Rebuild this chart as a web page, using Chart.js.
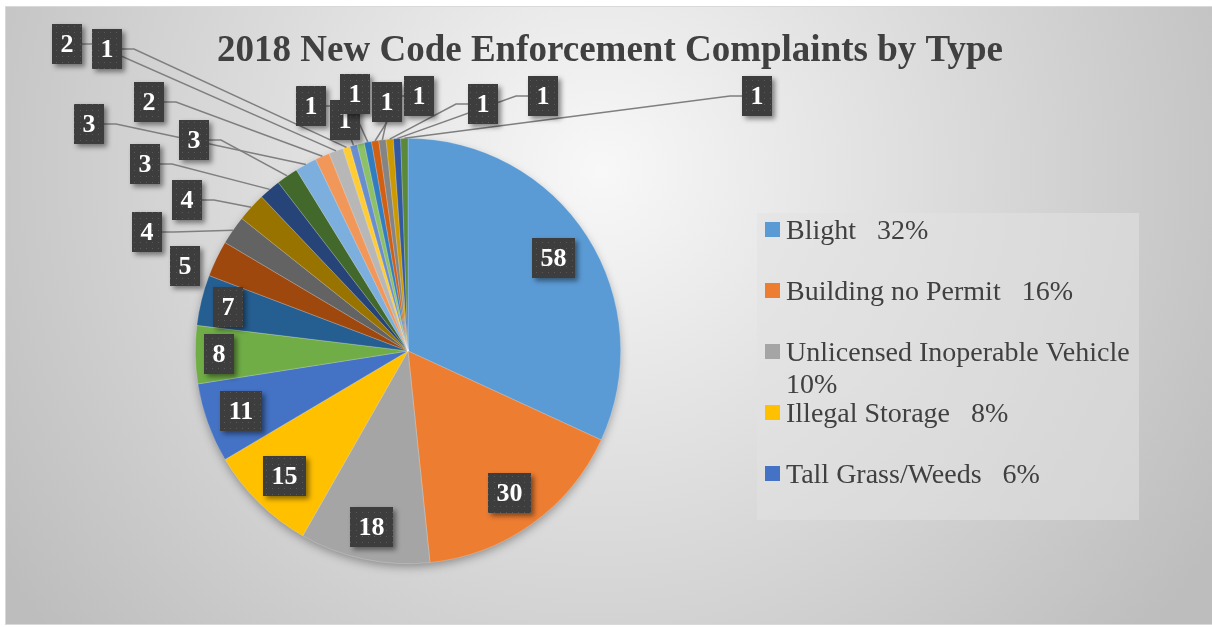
<!DOCTYPE html>
<html>
<head>
<meta charset="utf-8">
<script src="https://cdn.jsdelivr.net/npm/chart.js@4.4.1/dist/chart.umd.min.js"></script>
<style>
    html, body { margin: 0; padding: 0; background: #fff; }
    #wrap { width: 1212px; height: 627px; }
</style>
</head>
<body>
<div id="wrap"><canvas id="myChart" width="1212" height="627"></canvas></div>
<script>
var chartTitle = "2018 New Code Enforcement Complaints by Type";

var categories = ["Blight", "Building no Permit", "Unlicensed Inoperable Vehicle", "Illegal Storage",
    "Tall Grass/Weeds", "Type 6", "Type 7", "Type 8", "Type 9", "Type 10", "Type 11", "Type 12",
    "Type 13", "Type 14", "Type 15", "Type 16", "Type 17", "Type 18", "Type 19", "Type 20",
    "Type 21", "Type 22", "Type 23", "Type 24"];

var complaints = [58, 30, 18, 15, 11, 8, 7, 5, 4, 4, 3, 3, 3, 2, 2, 1, 1, 1, 1, 1, 1, 1, 1, 1];

var sliceColors = ["#5B9BD5", "#ED7D31", "#A5A5A5", "#FFC000", "#4472C4", "#70AD47",
    "#255E91", "#9E480E", "#636363", "#997300", "#264478", "#43682B",
    "#7CAFDD", "#F1975A", "#B7B7B7", "#FFCD33", "#698ED0", "#8CC168",
    "#327DC2", "#D26012", "#848484", "#CC9A00", "#335AA1", "#5A8A39"];

// only the first five show in the legend (the rest is cut off, like the original)
var legendCount = 5;

// where the small slices put their label, px from the pie centre
var outsideLabelAt = {
    7: [-223, -85], 8: [-261, -119], 9: [-221, -151], 10: [-263, -187],
    11: [-214, -211], 12: [-319, -227], 13: [-259, -249], 14: [-341, -307],
    15: [-301, -302], 16: [-97, -245], 17: [-63, -231], 18: [-53, -257],
    19: [-21, -249], 20: [11, -255], 21: [75, -247], 22: [135, -255], 23: [349, -255]
};
// big slices: label sits at this fraction of the radius
var insideLabelRadius = [0.81, 0.82, 0.845, 0.826, 0.836, 0.887, 0.87];

var serif = '"Liberation Serif", "Times New Roman", serif';

var pageObj = {};

pageObj.total = function () {
    return complaints.reduce(function (a, b) { return a + b; }, 0);
};

pageObj.dotPattern = function (ctx) {
    var c = document.createElement('canvas');
    c.width = 6; c.height = 6;
    var g = c.getContext('2d');
    g.fillStyle = '#3d3d3d';
    g.fillRect(0, 0, 6, 6);
    g.fillStyle = '#595959';
    g.fillRect(2, 2, 1, 1);
    return ctx.createPattern(c, 'repeat');
};

pageObj.drawBackground = function (chart) {
    var ctx = chart.ctx;
    ctx.save();
    ctx.fillStyle = '#ffffff';
    ctx.fillRect(0, 0, chart.width, chart.height);
    var g = ctx.createRadialGradient(600, 170, 0, 600, 170, 720);
    g.addColorStop(0, '#f8f8f8');
    g.addColorStop(1, '#bdbdbd');
    ctx.fillStyle = g;
    ctx.fillRect(5, 6, chart.width - 5, 619);
    ctx.strokeStyle = '#d9d9d9';
    ctx.lineWidth = 1;
    ctx.strokeRect(5.5, 6.5, chart.width, 618);

    // title
    ctx.fillStyle = '#404040';
    ctx.font = 'bold 37px ' + serif;
    ctx.textAlign = 'center';
    ctx.textBaseline = 'alphabetic';
    ctx.fillText(chartTitle, 610, 61);
    ctx.restore();
};

pageObj.drawLegend = function (chart) {
    var ctx = chart.ctx;
    var total = pageObj.total();
    var box = {x: 757, y: 213, w: 382, h: 307};
    ctx.save();
    ctx.fillStyle = 'rgba(226,226,226,0.55)';
    ctx.fillRect(box.x, box.y, box.w, box.h);
    ctx.font = '28px ' + serif;
    ctx.textAlign = 'left';
    ctx.textBaseline = 'alphabetic';
    var textX = 786;
    for (var i = 0; i < legendCount; i++) {
        var base = 239 + 61 * i;
        ctx.fillStyle = sliceColors[i];
        ctx.fillRect(765, base - 17, 15, 15);
        var pct = Math.round(complaints[i] / total * 100) + '%';
        var text = categories[i] + '   ' + pct;
        ctx.fillStyle = '#404040';
        if (ctx.measureText(text).width > box.x + box.w - 4 - textX) {
            ctx.fillText(categories[i], textX, base);
            ctx.fillText(pct, textX, base + 32);
        } else {
            ctx.fillText(text, textX, base);
        }
    }
    ctx.restore();
};

pageObj.drawPieShadow = function (chart) {
    var arc = chart.getDatasetMeta(0).data[0];
    if (!arc) return;
    var ctx = chart.ctx;
    ctx.save();
    ctx.shadowColor = 'rgba(0,0,0,0.35)';
    ctx.shadowBlur = 10;
    ctx.shadowOffsetY = 4;
    ctx.fillStyle = '#9a9a9a';
    ctx.beginPath();
    ctx.arc(arc.x, arc.y, arc.outerRadius - 1, 0, Math.PI * 2);
    ctx.fill();
    ctx.restore();
};

pageObj.drawLabels = function (chart) {
    var ctx = chart.ctx;
    var meta = chart.getDatasetMeta(0);
    var font = 'bold 26px ' + serif;
    var boxes = [];
    ctx.save();
    ctx.font = font;
    meta.data.forEach(function (arc, i) {
        var p = arc.getProps(['x', 'y', 'startAngle', 'endAngle', 'outerRadius'], true);
        var mid = (p.startAngle + p.endAngle) / 2;
        var text = String(complaints[i]);
        var w = Math.round(ctx.measureText(text).width) + 17;
        var h = 40;
        var b = {text: text, w: w, h: h};
        if (outsideLabelAt[i]) {
            b.cx = p.x + outsideLabelAt[i][0];
            b.cy = p.y + outsideLabelAt[i][1];
            b.px = p.x + Math.cos(mid) * p.outerRadius;
            b.py = p.y + Math.sin(mid) * p.outerRadius;
        } else {
            var f = insideLabelRadius[i] || 0.82;
            b.cx = p.x + Math.cos(mid) * p.outerRadius * f;
            b.cy = p.y + Math.sin(mid) * p.outerRadius * f;
        }
        boxes.push(b);
    });

    // leader lines first, boxes go on top of them
    ctx.strokeStyle = '#7f7f7f';
    ctx.lineWidth = 1.5;
    boxes.forEach(function (b) {
        if (b.px === undefined) return;
        var hw = b.w / 2, hh = b.h / 2;
        var ax, ay, ex, ey;
        if (b.px > b.cx + hw + 8) {
            ax = b.cx + hw; ay = b.cy; ex = ax + 12; ey = ay;
        } else if (b.px < b.cx - hw - 8) {
            ax = b.cx - hw; ay = b.cy; ex = ax - 12; ey = ay;
        } else {
            ax = b.cx; ay = b.cy + hh; ex = ax; ey = ay;
        }
        if (Math.hypot(b.px - ax, b.py - ay) < 20) return;
        ctx.beginPath();
        ctx.moveTo(ax, ay);
        ctx.lineTo(ex, ey);
        ctx.lineTo(b.px, b.py);
        ctx.stroke();
    });

    var dots = pageObj.dotPattern(ctx);
    boxes.forEach(function (b) {
        var x = Math.round(b.cx - b.w / 2), y = Math.round(b.cy - b.h / 2);
        ctx.save();
        ctx.shadowColor = 'rgba(0,0,0,0.45)';
        ctx.shadowBlur = 5;
        ctx.shadowOffsetX = 3;
        ctx.shadowOffsetY = 3;
        ctx.fillStyle = '#3d3d3d';
        ctx.fillRect(x, y, b.w, b.h);
        ctx.restore();
        ctx.fillStyle = dots;
        ctx.fillRect(x, y, b.w, b.h);
        ctx.fillStyle = '#ffffff';
        ctx.font = font;
        ctx.textAlign = 'center';
        ctx.textBaseline = 'middle';
        ctx.fillText(b.text, x + b.w / 2, y + b.h / 2 + 1);
    });
    ctx.restore();
};

pageObj.chartView = function () {
    var decor = {
        id: 'decor',
        beforeDraw: function (chart) {
            pageObj.drawBackground(chart);
            pageObj.drawLegend(chart);
        },
        beforeDatasetsDraw: function (chart) {
            pageObj.drawPieShadow(chart);
        },
        afterDatasetsDraw: function (chart) {
            pageObj.drawLabels(chart);
        }
    };

    const config = {
        type: 'pie',
        data: {
            labels: categories,
            datasets: [{
                data: complaints,
                backgroundColor: sliceColors,
                borderColor: 'rgba(255,255,255,0.35)',
                borderWidth: 0.6
            }]
        },
        options: {
            responsive: false,
            animation: false,
            devicePixelRatio: 1,
            layout: {
                padding: {left: 195, right: 591, top: 138, bottom: 63}
            },
            plugins: {
                legend: {display: false},
                title: {display: false},
                tooltip: {enabled: false}
            }
        },
        plugins: [decor]
    };

    new Chart(document.getElementById('myChart'), config);
};

pageObj.chartView();
</script>
</body>
</html>
